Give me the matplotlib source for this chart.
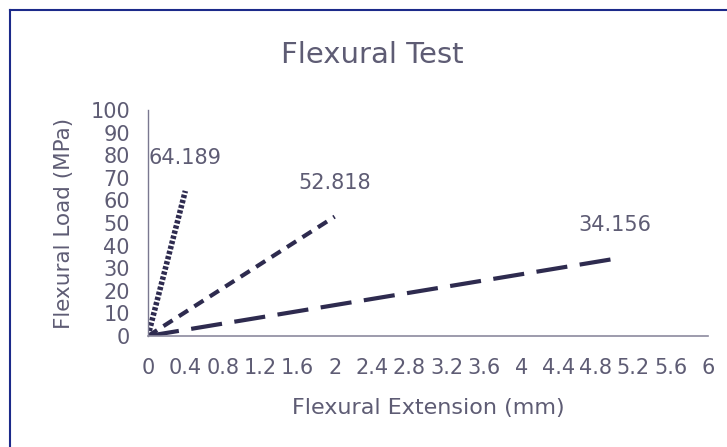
import matplotlib
matplotlib.use("Agg")
import matplotlib.pyplot as plt
from matplotlib.lines import Line2D

# data
ext_a = [0.0, 0.4]
load_a = [0.0, 64.189]
ext_b = [0.0, 2.0]
load_b = [0.0, 52.818]
ext_c = [0.0, 5.0]
load_c = [0.0, 34.156]
peak_labels = ["64.189", "52.818", "34.156"]

x_ticks = [0, 0.4, 0.8, 1.2, 1.6, 2, 2.4, 2.8, 3.2, 3.6, 4, 4.4, 4.8, 5.2, 5.6, 6]
x_ticklabels = ["0", "0.4", "0.8", "1.2", "1.6", "2", "2.4", "2.8", "3.2", "3.6",
                "4", "4.4", "4.8", "5.2", "5.6", "6"]
y_ticks = list(range(0, 101, 10))

LINE = "#2e2b4f"
TXT = "#5e5c74"

plt.rcParams["font.family"] = ["DejaVu Sans"]

fig = plt.figure(figsize=(7.27, 4.47), dpi=100)
ax = fig.add_axes([148 / 727, 1 - 336 / 447, 560 / 727, 226 / 447])

ax.plot(ext_a, load_a, color=LINE, lw=4.0, ls=(0, (0.6, 0.35)), solid_capstyle="butt")
ax.plot(ext_b, load_b, color=LINE, lw=3.0, ls=(0, (2.6, 1.8)))
ax.plot(ext_c, load_c, color=LINE, lw=3.0, ls=(0, (7.5, 3)))

for xs, ys, lab in zip([ext_a, ext_b, ext_c], [load_a, load_b, load_c], peak_labels):
    ax.annotate(lab, (xs[-1], ys[-1]), xytext=(0, 24), textcoords="offset points",
                ha="center", va="center", fontsize=15, color=TXT)

ax.set_xlim(0, 6)
ax.set_ylim(0, 100)
ax.set_xticks(x_ticks)
ax.set_xticklabels(x_ticklabels)
ax.set_yticks(y_ticks)
ax.tick_params(length=0, labelsize=15, colors=TXT)
ax.tick_params(axis="x", pad=16)
ax.tick_params(axis="y", pad=13)

for s in ["top", "right"]:
    ax.spines[s].set_visible(False)
ax.spines["bottom"].set_color("#8c8a9e")
ax.spines["bottom"].set_linewidth(1.2)
ax.spines["left"].set_color("#7a7890")
ax.spines["left"].set_linewidth(1.0)
ax.spines["left"].set_linestyle((0, (1, 1)))

ax.set_xlabel("Flexural Extension (mm)", fontsize=16, color=TXT, labelpad=14)
ax.set_ylabel("Flexural Load (MPa)", fontsize=15.5, color=TXT, labelpad=12)

fig.text(372 / 727, 1 - 55 / 447, "Flexural Test", ha="center",
         va="center", fontsize=21, color=TXT)

# chart border (left and top edges visible)
fig.add_artist(Line2D([10 / 727, 10 / 727], [0, 1 - 10 / 447], transform=fig.transFigure,
                      color="#1c2a8a", lw=1.5))
fig.add_artist(Line2D([10 / 727, 1], [1 - 10 / 447, 1 - 10 / 447], transform=fig.transFigure,
                      color="#1c2a8a", lw=1.5))

fig.savefig("out.png", dpi=100)
